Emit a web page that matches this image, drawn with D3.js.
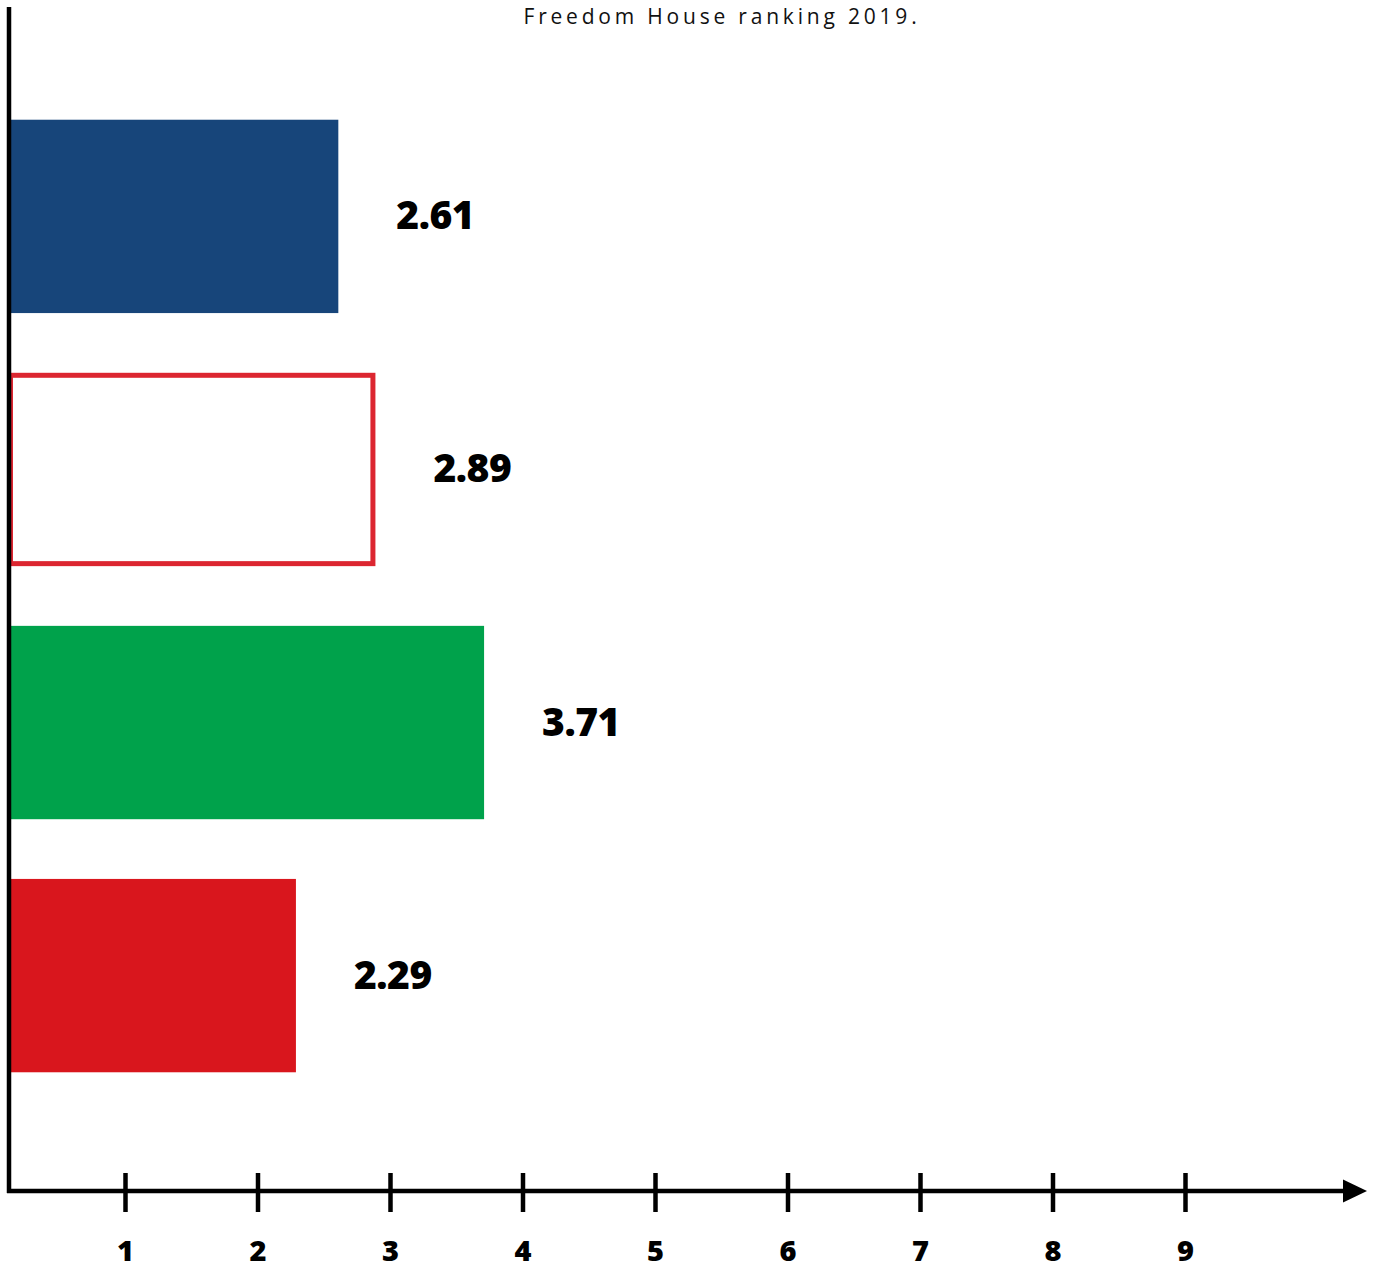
<!DOCTYPE html>
<html>
<head>
<meta charset="utf-8">
<script src="https://cdn.jsdelivr.net/npm/d3@7"></script>
<style>
  html, body { margin: 0; padding: 0; background: #ffffff; }
  svg { display: block; }
</style>
</head>
<body>
<svg id="chart" width="1381" height="1270"></svg>
<script>
// Chart data
const categories = ["Series 1", "Series 2", "Series 3", "Series 4"];
const values = [2.61, 2.89, 3.71, 2.29];
const barFills = ["#17457a", "#ffffff", "#00a24b", "#d9161d"];
const barStrokes = ["none", "#dc2630", "none", "none"];
const tickValues = [1, 2, 3, 4, 5, 6, 7, 8, 9];
const title = "Freedom House ranking 2019.";

const svg = d3.select("#chart");
const axisX = 9;        // vertical axis position
const axisY = 1191;     // horizontal axis position
const arrowEnd = 1367;

const x = d3.scaleLinear().domain([0, 10]).range([-7.5, 1317.5]);
const y = d3.scaleBand().domain(categories).range([60, 1132]).padding(0.236);

const heavyFont = "'Open Sans', Lato, 'DejaVu Sans', sans-serif";
const titleFont = "'Open Sans', Lato, sans-serif";

// Title
svg.append("text")
  .attr("x", 722).attr("y", 24)
  .attr("text-anchor", "middle")
  .attr("font-family", titleFont)
  .attr("font-size", 21)
  .attr("letter-spacing", 3.8)
  .attr("fill", "#111")
  .text(title);

// Bars
const rows = categories.map((c, i) => ({ c, v: values[i], fill: barFills[i], stroke: barStrokes[i] }));
const sw = 5;
svg.append("g").selectAll("rect").data(rows).join("rect")
  .attr("x", d => d.stroke === "none" ? axisX - 1 : axisX - 1 + sw / 2)
  .attr("y", d => d.stroke === "none" ? y(d.c) : y(d.c) + sw / 2)
  .attr("width", d => d.stroke === "none" ? x(d.v) - (axisX - 1) : x(d.v) - (axisX - 1) - sw)
  .attr("height", d => d.stroke === "none" ? y.bandwidth() : y.bandwidth() - sw)
  .attr("fill", d => d.fill)
  .attr("stroke", d => d.stroke)
  .attr("stroke-width", sw);

// Value labels
svg.append("g").selectAll("text").data(rows).join("text")
  .attr("x", d => x(d.v) + 58)
  .attr("y", d => y(d.c) + y.bandwidth() / 2 + 13)
  .attr("font-family", heavyFont)
  .attr("font-weight", 800)
  .attr("font-size", 39)
  .attr("letter-spacing", -0.5)
  .attr("fill", "#000")
  .text(d => d.v.toFixed(2));

// Vertical axis line
svg.append("line")
  .attr("x1", axisX).attr("x2", axisX)
  .attr("y1", 7).attr("y2", axisY + 2)
  .attr("stroke", "#000").attr("stroke-width", 4.5);

// Horizontal axis with ticks
const xAxis = d3.axisBottom(x).tickValues(tickValues).tickFormat(d3.format("d")).tickSize(0);
const gx = svg.append("g").attr("transform", `translate(0,${axisY})`).call(xAxis);
gx.select(".domain").remove();
gx.selectAll(".tick line")
  .attr("y1", -18).attr("y2", 21)
  .attr("stroke", "#000").attr("stroke-width", 4.5);
gx.selectAll(".tick text")
  .attr("y", 70).attr("dy", 0)
  .attr("font-family", heavyFont)
  .attr("font-weight", 800)
  .attr("font-size", 29)
  .attr("fill", "#000");

svg.append("line")
  .attr("x1", axisX - 2).attr("x2", arrowEnd - 20)
  .attr("y1", axisY).attr("y2", axisY)
  .attr("stroke", "#000").attr("stroke-width", 4.5);

svg.append("path")
  .attr("d", d3.line()([[arrowEnd - 24, axisY - 11.5], [arrowEnd, axisY], [arrowEnd - 24, axisY + 11.5]]) + "Z")
  .attr("fill", "#000");
</script>
</body>
</html>
